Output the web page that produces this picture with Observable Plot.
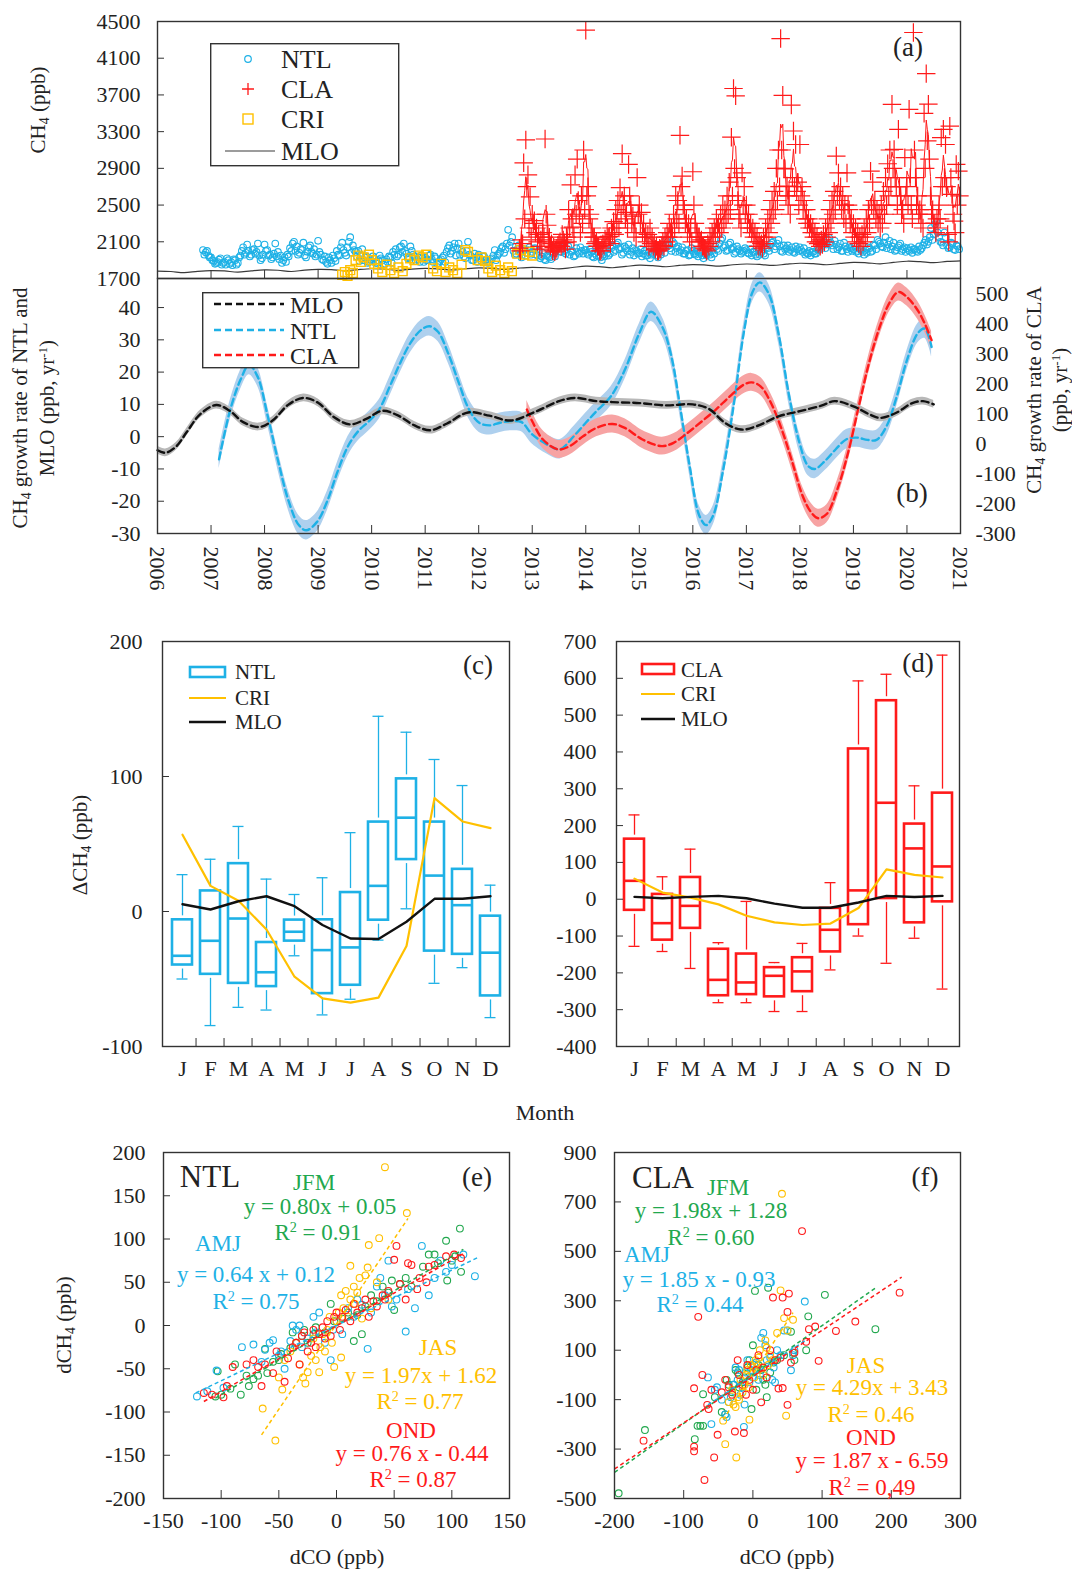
<!DOCTYPE html>
<html><head><meta charset="utf-8">
<script src="https://cdn.jsdelivr.net/npm/d3@7"></script>
<script src="https://cdn.jsdelivr.net/npm/@observablehq/plot@0.6"></script>
<style>
body{margin:0;background:#fff;width:1072px;height:1570px;position:relative;overflow:hidden;font-family:"Liberation Serif","Times New Roman",serif;color:#222}
.t{position:absolute;white-space:nowrap;line-height:1}
sub{font-size:0.65em;vertical-align:-0.25em}
sup{font-size:0.62em;vertical-align:0.55em}
</style></head><body>
<script>
const BLUE="#1EB1E6", RED="#FF1A1A", ORANGE="#FFC000", GREEN="#22A84E", INK="#222", FR="#333";
const FONT='"Liberation Serif","Times New Roman",serif';

// ---------- (a) CH4 time series ----------
const years = [2006,2007,2008,2009,2010,2011,2012,2013,2014,2015,2016,2017,2018,2019,2020,2021];
const aTicks = [1700,2100,2500,2900,3300,3700,4100,4500];
const ntlStep = 0.05;
const ntlStartA = 2006.85;
const ntlValuesA = [
 2010,1985,1950,
 1930,1890,1870,1905,1850,1880,1920,1860,1845,1900,1870,1950,2040,1980,2000,1960,2020,1990,1950,1920,
 2070,2010,1960,1930,2080,1990,1950,1900,1880,1940,2000,2100,2050,1980,2010,1950,1990,2060,1970,1940,
 2110,1960,1900,1880,1930,1870,1920,2000,1950,2090,1980,2040,2150,2060,1990,2000,1950,1900,1940,1880,
 1890,1920,1870,1950,1900,1860,1880,1930,1990,2020,1960,2050,2080,1970,1930,2000,1940,1910,1880,1920,
 1930,1900,1960,1880,1920,1870,1910,1950,1990,2060,2000,2080,2030,1960,1990,1920,2100,1950,1900,1930,
 1960,1890,1940,1910,1880,1920,2010,1950,1990,2050,2020,2230,2100,2000,1970,2060,1930,2020,1980,2040,
 1990,2030,1950,1920,1980,1900,1940,1910,1970,2010,2050,1990,2080,2020,1960,2000,1950,1990,2040,1970,
 2010,1960,1990,1930,1950,2020,1900,1940,1980,1970,2060,2010,2090,2040,1980,2030,2070,1990,1950,2000,
 1980,1940,2000,1950,1920,1970,2010,1930,1960,2050,2120,2060,2000,2080,2030,1990,2040,1970,2010,1960,
 2000,1960,1940,1990,1920,1950,1980,1930,1970,2020,2080,2140,2060,2010,2090,2040,1990,2020,1970,2000,
 2010,1970,1950,1990,1940,1960,2000,1950,2030,2070,2100,2050,2120,2000,2060,2030,1990,2040,1980,2020,
 2040,1990,1960,1970,1950,1990,1970,2010,2050,2100,2070,2140,2060,2110,2020,2080,2000,2050,1990,2030,
 2020,1990,1970,2010,1960,1980,2030,2000,2060,2120,2080,2040,2150,2070,2020,2090,2010,2060,2000,2040,
 2030,2000,1980,2020,1990,2010,2060,2120,2100,2250,2180,2320,2150,2090,2200,2060,2040,2080,2010,2050
];
const ntlStartB = 2006.875;
const ntlValuesB = [
 1960,2000,1930,
 1900,1860,1880,1920,1870,1850,1900,1880,1910,1850,1930,2000,1960,2070,1940,2010,1970,2080,1900,1960,
 2000,1950,1910,1970,1940,1910,1870,1930,1960,2030,2080,2000,1960,2020,2090,1930,2040,1990,2020,1960,
 1990,1910,1940,1860,1900,1950,1890,1960,2040,2010,1950,2100,1980,2010,1940,1890,2020,1930,1870,1910,
 1940,1870,1900,1920,1850,1910,1940,1870,1960,1940,2040,1990,2000,1920,2050,1960,1890,1930,1950,1880,
 1900,1950,1910,1940,1860,1890,1930,1880,2030,1970,2040,1950,2080,2010,1940,2000,1960,1900,1970,1880,
 1920,1940,1900,1870,1910,1950,1900,1970,2030,1980,2080,2060,2150,1960,2020,1990,2000,1950,2010,1960,
 2020,1960,2000,1940,1910,1950,1930,1970,1940,2060,1990,2030,1970,2050,1990,1940,2030,1970,2000,2010,
 1980,2020,1940,1970,2000,1930,1960,2010,1950,2030,1990,2070,2020,1960,2050,2000,1960,2030,2010,1970,
 2020,1970,1950,1990,1960,2000,1950,1990,2020,1980,2070,2030,2100,1990,2050,2010,1970,2000,1950,2030,
 1970,2010,1980,1950,1970,2000,1960,2010,2050,2000,2120,2040,2000,2070,2020,1970,2050,2000,1990,2030,
 1980,2020,1990,1960,2010,1980,1970,2040,2000,2090,2020,2080,2050,1990,2020,2060,2010,1990,2050,2000,
 2010,2030,1980,2000,1990,1970,2020,2040,2080,2030,2120,2090,2020,2070,2040,2000,2090,2020,2040,2000,
 2050,2000,2020,1990,2010,2040,1990,2070,2020,2100,2050,2090,2030,2110,2050,2000,2040,2080,2020,1990,
 2010,2040,2020,2000,2050,2030,2090,2070,2150,2120,2290,2200,2100,2060,2150,2030,2090,2020,2060,2020
];
const claStep = 0.04;
const claStartA = 2012.76;
const claValuesA = [
 2030,2120,2960,3210,2830,2590,
 2400,2330,2250,2180,2120,2200,3220,2280,2150,2080,2040,2010,2060,2100,2180,2090,2150,2450,2720,2260,2830,3000,2380,2600,3100,
 4405,2700,2400,2250,2150,2100,2050,2000,2080,2130,2200,2160,2250,2320,2450,2550,2690,3060,2600,2420,2943,2500,2380,2300,2800,
 2500,2420,2300,2200,2180,2250,2150,2080,2050,2000,2020,2100,2150,2200,2300,2250,2400,2600,2550,3260,2816,2450,2350,2300,2250,
 2863,2300,2200,2150,2120,2050,2020,2080,2150,2200,2250,2350,2300,2400,2500,2450,2600,2750,3240,3770,3690,2550,2400,2850,2700,
 2500,2400,2300,2250,2200,2150,2100,2080,2150,2250,2350,2450,2550,2650,2900,3100,4314,3696,2895,2707,2600,3590,3307,3160,2750,
 3160,2700,2550,2450,2350,2300,2250,2200,2150,2100,2120,2180,2250,2350,2450,2550,2650,3034,2850,2700,2600,2500,2850,2450,2350,
 2300,2250,2200,2150,2180,2250,2350,2450,2870,2750,2550,2450,2400,2500,2650,2800,2950,3100,3598,3107,2700,3325,2600,2450,3016,
 2700,3543,2500,4380,2800,2600,2450,2400,3500,3932,3600,2600,2450,2300,2350,2500,3234,3325,3160,2180,3360,2616,2325,2943,2870
];
const claStartB = 2012.78;
const claValuesB = [
 2000,2080,2350,2700,2250,2150,
 2300,2200,2100,2050,2020,2150,2400,2100,2050,2000,1990,2030,2080,2050,2120,2020,2100,2250,2350,2150,2400,2550,2200,2300,2450,
 2600,2350,2200,2150,2080,2050,2000,2030,2060,2100,2150,2080,2200,2180,2300,2250,2400,2500,2350,2250,2600,2300,2200,2150,2400,
 2300,2200,2150,2100,2050,2080,2050,2020,2000,2030,2060,2050,2100,2150,2200,2150,2250,2350,2300,2700,2500,2300,2200,2150,2100,
 2500,2200,2150,2100,2050,2030,2000,2050,2100,2150,2200,2250,2200,2250,2300,2350,2400,2450,2600,2900,2800,2350,2250,2500,2400,
 2300,2250,2200,2150,2100,2050,2050,2030,2080,2150,2200,2300,2400,2450,2550,2700,3100,2900,2600,2500,2400,2800,2700,2650,2500,
 2600,2450,2350,2300,2250,2200,2150,2100,2080,2050,2070,2100,2150,2200,2300,2400,2450,2600,2550,2450,2350,2300,2500,2300,2200,
 2150,2100,2080,2050,2100,2150,2200,2300,2500,2450,2350,2300,2250,2300,2400,2500,2600,2700,2900,2800,2500,2700,2400,2300,2600,
 2500,2800,2350,3100,2500,2400,2300,2250,2900,3200,3000,2400,2300,2200,2250,2350,2700,2800,2700,2100,2800,2400,2200,2500,2600
];
const criObs = [
 [2009.45,1740],[2009.5,1770],[2009.55,1730],[2009.6,1790],[2009.65,1760],[2009.7,1900],[2009.75,1950],[2009.8,1880],[2009.85,1930],[2009.95,1960],[2010.0,1900],[2010.05,1860],
 [2010.12,1810],[2010.2,1770],[2010.28,1850],[2010.35,1790],[2010.42,1760],[2010.5,1820],[2010.58,1780],[2010.65,1860],
 [2010.72,1920],[2010.8,1900],[2010.88,1950],[2010.95,1930],[2011.02,1960],
 [2011.15,1810],[2011.22,1780],[2011.3,1860],[2011.38,1770],[2011.45,1820],[2011.52,1790],[2011.6,1760],[2011.68,1850],[2011.75,2010],[2011.8,1990],
 [2011.98,1900],[2012.05,1930],[2012.12,1890],[2012.18,1810],[2012.25,1770],[2012.32,1840],[2012.4,1790],[2012.48,1760],[2012.55,1820],[2012.62,1780],
 [2012.72,1970],[2012.78,2010],[2012.85,1960],[2012.95,1990],[2013.0,1950]
];
const mloStart = 2006, mloStep = 0.25;
const mloValues = [
 1780,1776,1764,1778, 1786,1782,1770,1784, 1794,1790,1776,1792, 1800,1797,1783,1797,
 1806,1801,1789,1803, 1810,1805,1793,1806, 1815,1811,1800,1814, 1822,1817,1805,1820,
 1834,1829,1817,1832, 1845,1840,1828,1843, 1852,1846,1835,1850, 1858,1853,1842,1856,
 1866,1861,1850,1864, 1876,1871,1860,1875, 1888,1883,1872,1886, 1893
];

// ---------- (b) growth rates ----------
const mloGrowth = [[2006.0,-4.2],[2006.15,-5],[2006.35,-3],[2006.55,1.5],[2006.8,7],[2007.1,9.8],[2007.35,8],[2007.6,4.5],[2007.9,3],[2008.15,5],[2008.45,10],[2008.73,12],[2009.0,10.5],[2009.3,6],[2009.6,3.8],[2009.9,5.5],[2010.2,8],[2010.5,6.5],[2010.8,3.5],[2011.1,2],[2011.4,4],[2011.8,7.5],[2012.2,6.5],[2012.6,5],[2013.07,7.8],[2013.5,11],[2013.8,12],[2014.2,11],[2014.5,10.7],[2015.0,10.4],[2015.5,9.7],[2016.0,10],[2016.3,8.6],[2016.6,4.3],[2016.9,2.2],[2017.2,3.3],[2017.6,6.3],[2018.0,7.9],[2018.4,9.6],[2018.65,11],[2019.0,9.4],[2019.3,6.9],[2019.5,5.8],[2019.8,7.4],[2020.1,10.4],[2020.3,11],[2020.5,10]];
const ntlGrowth = [[2007.15,-7],[2007.36,8.4],[2007.55,17.6],[2007.71,22.2],[2007.87,18.6],[2008.06,6.3],[2008.26,-8],[2008.45,-20],[2008.64,-27.4],[2008.78,-29],[2008.98,-26.4],[2009.17,-20],[2009.36,-11],[2009.56,-2.9],[2009.75,1.7],[2009.95,4.8],[2010.14,8.4],[2010.34,15.6],[2010.53,22.7],[2010.72,28.9],[2010.92,33],[2011.08,34.2],[2011.24,32.5],[2011.43,25.8],[2011.63,16.6],[2011.82,8.4],[2012.01,4.3],[2012.2,3.5],[2012.4,4.3],[2012.6,4.8],[2012.8,4.5],[2013.0,0.7],[2013.33,-2.9],[2013.52,-3.9],[2013.78,0.2],[2014.0,4.3],[2014.2,7.9],[2014.47,12.5],[2014.73,20.7],[2015.0,32],[2015.22,38.7],[2015.43,34],[2015.6,24.8],[2015.78,7.4],[2015.95,-10],[2016.12,-24.4],[2016.25,-27.4],[2016.38,-24.4],[2016.57,-10],[2016.77,10.5],[2016.96,33],[2017.12,45],[2017.25,47.8],[2017.42,44.2],[2017.6,32],[2017.8,12.5],[2017.99,-1.8],[2018.15,-9],[2018.28,-10],[2018.47,-7.5],[2018.67,-3.9],[2018.87,-0.8],[2019.07,-0.3],[2019.26,-1],[2019.43,-1],[2019.62,3.3],[2019.81,12.5],[2020.0,23.7],[2020.2,32],[2020.33,33.5],[2020.46,27.8]];
const claGrowth = [[2012.9,114],[2013.0,75],[2013.2,14],[2013.49,-19],[2013.7,-8],[2013.95,25],[2014.2,53],[2014.5,66],[2014.73,53],[2015.06,14],[2015.42,-8],[2015.64,3],[2015.9,36],[2016.17,75],[2016.43,114],[2016.69,158],[2016.95,197],[2017.1,205],[2017.27,191],[2017.46,136],[2017.66,48],[2017.86,-63],[2018.05,-174],[2018.21,-229],[2018.34,-249],[2018.5,-235],[2018.7,-152],[2018.9,-30],[2019.1,125],[2019.29,269],[2019.49,390],[2019.68,473],[2019.84,507],[2020.0,490],[2020.2,446],[2020.33,402],[2020.46,346]];
const mloUnc = 1.2, ntlUnc = 3, claUnc = 30;
const leftTicksB = [-30,-20,-10,0,10,20,30,40];
const rightTicksB = [-300,-200,-100,0,100,200,300,400,500];

// ---------- (c)(d) monthly boxes: [low whisker, q1, median, q3, high whisker] ----------
const monthLabels = ["J","F","M","A","M","J","J","A","S","O","N","D"];
const ntlBox = [[-50,-42.6,-32.8,-3.2,27.3],[-84.5,-49.5,-21.7,18.2,38.7],[-71,-56.2,-5.2,38.4,63],[-73,-58.6,-45,-20,24],[-32.8,-24.9,-15,-3.4,12.6],[-76.6,-63.8,-28.6,-3.2,25],[-65,-57.6,-26.6,17,58.4],[-21.2,-9.4,19,69.2,144.6],[2,35.5,69.5,101.2,132.8],[-53.2,-32.3,26.6,69.2,112.6],[-41.6,-34.7,4.7,34.2,93.3],[-78.6,-65.5,-30.5,-0.5,19.5]];
const criMonthlyC = [56.9,19,7.9,-13.3,-48.3,-64.3,-67.5,-63.8,-25.6,84,66.7,61.8];
const mloMonthlyC = [5.4,1.5,7.6,11.3,3.9,-10,-20,-20.4,-7.6,9.4,9.4,11.3];
const claBox = [[-128,-41,50,174,229],[-142,-122,-65,24,61],[-188,-90,-18,70,136],[-281,-273,-219,-125,-118],[-281,-270,-226,-138,-6],[-305,-276,-208,-175,-172],[-305,-262,-196,-148,-120],[-192,-154,-83,-14,45],[-100,-80,24,419,593],[-174,-9,262,550,611],[-106,-75,138,215,308],[-244,-18,89,299,663]];
const criMonthlyD = [56,18,4.5,-14,-45,-63,-70,-66,-24,81,66,59];
const mloMonthlyD = [6.3,2.7,6.3,9,2.7,-12,-23,-23,-9,9,6,9];

// ---------- (e) NTL dCO vs dCH4 ----------
const ntlJFM = [[-105,-82],[-103,-53],[-100,-80],[-92,-73],[-88,-45],[-83,-80],[-78,-58],[-76,-70],[-72,-62],[-68,-58],[-62,-27],[-60,-55],[-55,-42],[-50,-40],[-48,-33],[-40,-26],[-38,-8],[-35,-20],[-30,-12],[-28,-5],[-25,-20],[-20,-10],[-18,-2],[-10,-8],[-5,25],[-2,5],[5,8],[10,15],[15,-18],[18,12],[22,-10],[25,22],[30,35],[35,28],[40,45],[45,38],[48,52],[50,18],[55,48],[60,55],[65,45],[75,68],[80,82],[85,82],[88,72],[95,98],[96,52],[100,75],[103,80],[107,112],[108,62]];
const ntlAMJ = [[-121,-82],[-112,-76],[-104,-52],[-98,-72],[-82,-25],[-72,-22],[-65,-42],[-62,-28],[-58,-20],[-55,-17],[-50,-35],[-48,-30],[-45,-50],[-40,-18],[-38,0],[-35,-5],[-32,0],[-30,-25],[-25,-15],[-20,10],[-18,-8],[-15,15],[-10,-20],[-5,-40],[-3,-5],[0,5],[5,-10],[10,20],[15,10],[18,30],[22,24],[27,-27],[30,15],[35,45],[38,55],[42,35],[45,75],[48,22],[52,30],[60,-7],[62,42],[68,20],[74,92],[80,35],[85,55],[90,75],[95,62],[100,70],[110,82],[120,57]];
const ntlJAS = [[-64,-96],[-53,-133],[-50,-60],[-47,-74],[-45,-40],[-40,-30],[-35,-20],[-32,-45],[-29,-60],[-27,-67],[-25,-54],[-22,-35],[-20,-15],[-18,-40],[-15,-54],[-14,-25],[-12,-10],[-10,-30],[-8,-5],[-6,10],[-4,-20],[-2,-48],[0,5],[2,15],[4,-37],[4,35],[6,20],[8,40],[10,10],[12,30],[12,69],[15,45],[16,25],[18,38],[20,55],[22,8],[25,58],[27,67],[28,93],[30,20],[35,50],[37,101],[42,183],[45,30],[61,130]];
const ntlOND = [[-115,-78],[-108,-80],[-98,-83],[-95,-70],[-90,-48],[-78,-45],[-72,-40],[-68,-48],[-65,-70],[-62,-45],[-55,-55],[-52,-30],[-45,-65],[-42,-38],[-38,-25],[-35,-20],[-32,-45],[-30,-12],[-28,-8],[-25,-30],[-22,-20],[-20,-5],[-18,-25],[-15,-10],[-12,-2],[-10,-15],[-8,5],[-5,-12],[-2,10],[0,15],[3,-5],[5,10],[8,18],[12,5],[15,25],[18,15],[22,20],[25,30],[28,10],[32,28],[35,22],[40,35],[42,30],[45,40],[50,76],[52,92],[55,48],[60,30],[62,72],[65,70],[70,42],[72,55],[78,50],[80,68],[85,70],[95,80],[102,82],[108,78]];
const ntlFits = [{s:"JFM",a:0.80,b:0.05,x1:-105,x2:110},{s:"AMJ",a:0.64,b:0.12,x1:-122,x2:122},{s:"JAS",a:1.97,b:1.62,x1:-65,x2:62},{s:"OND",a:0.76,b:-0.44,x1:-115,x2:110}];

// ---------- (f) CLA dCO vs dCH4 ----------
const claJFM = [[-194,-479],[-156,-223],[-84,-260],[-80,-206],[-76,-206],[-72,-206],[-72,-78],[-55,-90],[-45,-150],[-40,-160],[-38,-20],[-35,-40],[-30,-70],[-28,-40],[-25,20],[-22,10],[-20,-50],[-15,-30],[-12,-10],[-8,30],[-5,60],[-2,-138],[0,10],[0,120],[3,340],[5,-60],[8,40],[12,20],[15,-20],[18,-40],[20,-90],[22,353],[25,10],[30,50],[35,60],[45,80],[55,175],[58,90],[60,60],[77,100],[80,237],[104,324],[177,185]];
const claAMJ = [[-65,-10],[-60,-199],[-55,-60],[-52,-50],[-45,-100],[-40,-160],[-38,-170],[-35,-110],[-32,-90],[-28,-40],[-25,30],[-22,-20],[-20,20],[-18,-80],[-15,-50],[-13,-210],[-12,-120],[-10,10],[-8,60],[-5,-30],[-3,20],[0,-10],[2,40],[5,50],[8,-20],[10,0],[12,150],[15,170],[18,120],[20,60],[25,70],[28,-20],[30,30],[32,-30],[35,100],[40,80],[45,180],[50,180],[55,19],[58,80],[60,100],[75,297]];
const claJAS = [[-43,-185],[-40,-280],[-35,-110],[-30,-60],[-28,-120],[-25,-130],[-24,-334],[-22,-90],[-20,-100],[-18,-20],[-15,-70],[-12,-40],[-10,0],[-8,20],[-6,-50],[-5,-181],[-3,40],[0,30],[2,-10],[4,60],[5,20],[8,70],[10,100],[12,30],[15,0],[18,140],[20,110],[22,40],[25,80],[28,60],[35,170],[40,342],[42,733],[45,230],[48,-165],[50,180],[58,223]];
const claOND = [[-158,-266],[-85,-309],[-85,-290],[-85,-54],[-79,235],[-73,0],[-70,-425],[-66,-121],[-64,-138],[-60,-60],[-56,-334],[-51,-242],[-45,-70],[-40,-20],[-35,-50],[-30,-80],[-26,-229],[-22,60],[-20,0],[-15,-40],[-13,-235],[-10,-80],[-8,40],[-5,-20],[0,-60],[5,20],[8,80],[12,-111],[15,30],[20,-10],[25,100],[29,313],[32,60],[37,-55],[40,70],[43,313],[43,-53],[50,255],[50,-121],[52,329],[55,50],[60,90],[71,582],[77,134],[81,185],[90,196],[95,57],[120,178],[148,216],[212,333]];
const claFits = [{s:"JFM",a:1.98,b:1.28,x1:-200,x2:178},{s:"AMJ",a:1.85,b:-0.93,x1:-65,x2:75},{s:"JAS",a:4.29,b:3.43,x1:-43,x2:58},{s:"OND",a:1.87,b:-6.59,x1:-200,x2:215}];

const seasonColor = {JFM: GREEN, AMJ: BLUE, JAS: ORANGE, OND: RED};

// ---------- helpers ----------
const ST = {background:"transparent", overflow:"visible", fontFamily:FONT, fontSize:"22px", color:INK};
const fmt = d => String(d);
function place(el, left, top){ const d=document.createElement("div"); d.style.position="absolute"; d.style.left=left+"px"; d.style.top=top+"px"; d.appendChild(el); document.body.appendChild(d); }
function label(html, cx, cy, o={}){
  const {size=22, color=INK, rotate=0, anchor="middle"} = o;
  const d=document.createElement("div"); d.className="t"; d.innerHTML=html;
  d.style.fontSize=size+"px"; d.style.color=color; d.style.left=cx+"px"; d.style.top=cy+"px";
  const tx = anchor==="start" ? "0" : anchor==="end" ? "-100%" : "-50%";
  d.style.transform=`translate(${tx},-50%)`+(rotate?` rotate(${rotate}deg)`:"");
  document.body.appendChild(d);
}
function svgBox(left, top, w, h, inner){
  const d=document.createElement("div"); d.style.position="absolute"; d.style.left=left+"px"; d.style.top=top+"px";
  d.innerHTML=`<svg width="${w}" height="${h}" style="overflow:visible;display:block">${inner}</svg>`;
  document.body.appendChild(d);
}
const series = (start, step, vals) => vals.map((v,i)=>({t: start + i*step, v}));

// ---------- panel (a) ----------
const ntlA = [...series(ntlStartA, ntlStep, ntlValuesA), ...series(ntlStartB, ntlStep, ntlValuesB)];
const claA = [...series(claStartA, claStep, claValuesA), ...series(claStartB, claStep, claValuesB)].sort((a,b)=>a.t-b.t);
const criA = criObs.map(([t,v])=>({t,v}));
const mloA = series(mloStart, mloStep, mloValues);
place(Plot.plot({
  width:1072, height:280, marginLeft:157, marginRight:112, marginTop:21, marginBottom:2, style:ST,
  x:{domain:[2006,2021], axis:null}, y:{domain:[1700,4500], axis:null},
  marks:[
    Plot.line(mloA, {x:"t", y:"v", stroke:"#3a3a3a", strokeWidth:1.2, curve:"catmull-rom"}),
    Plot.dot(ntlA, {x:"t", y:"v", r:3.3, fill:"none", stroke:BLUE, strokeWidth:1.1}),
    Plot.dot(criA, {x:"t", y:"v", symbol:"square", r:5, fill:"none", stroke:ORANGE, strokeWidth:1.4}),
    Plot.lineY(claA, Plot.windowY({k:5, reduce:"mean"}, {x:"t", y:"v", stroke:RED, strokeWidth:1})),
    Plot.dot(claA, {x:"t", y:"v", symbol:"plus", r:6, fill:"none", stroke:RED, strokeWidth:1.2}),
    Plot.tickY(aTicks.slice(1,-1), {y:d=>d, insetRight:803-7, stroke:FR}),
    Plot.tickX(years.slice(1,-1), {x:d=>d, insetTop:257-8, stroke:FR}),
    Plot.frame({stroke:FR, strokeWidth:1.4}),
    Plot.axisY(aTicks, {label:null, tickSize:0, tickPadding:17, tickFormat:fmt, fontSize:22})
  ]
}), 0, 0);
label("CH<sub>4</sub> (ppb)", 40, 110, {size:21, rotate:-90});
label("(a)", 908, 47, {size:27});
svgBox(210, 43, 190, 125, `
  <rect x="0.7" y="0.7" width="188" height="122" fill="white" stroke="${FR}" stroke-width="1.4"/>
  <circle cx="38" cy="16" r="3.3" fill="none" stroke="${BLUE}" stroke-width="1.2"/>
  <path d="M32,46 h12 M38,40 v12" stroke="${RED}" stroke-width="1.3"/>
  <rect x="33" y="71" width="10" height="10" fill="none" stroke="${ORANGE}" stroke-width="1.4"/>
  <line x1="15" x2="65" y1="108" y2="108" stroke="#3a3a3a" stroke-width="1.2"/>`);
label("NTL", 281, 60, {size:26, anchor:"start"});
label("CLA", 281, 90, {size:26, anchor:"start"});
label("CRI", 281, 120, {size:26, anchor:"start"});
label("MLO", 281, 152, {size:26, anchor:"start"});

// ---------- panel (b) ----------
const toL = r => -30 + (r + 300) * 79 / 852;
const fromL = l => (l + 30) * 852 / 79 - 300;
place(Plot.plot({
  width:1072, height:340, marginLeft:157, marginRight:112, marginTop:8, marginBottom:77, style:ST,
  x:{domain:[2006,2021], axis:null}, y:{domain:[-30,49], axis:null},
  marks:[
    Plot.areaY(ntlGrowth, {x:d=>d[0], y1:d=>d[1]-ntlUnc, y2:d=>d[1]+ntlUnc, fill:"#AED0EE", curve:"catmull-rom"}),
    Plot.areaY(claGrowth, {x:d=>d[0], y1:d=>toL(d[1]-claUnc), y2:d=>toL(d[1]+claUnc), fill:"#F7A3A3", curve:"catmull-rom"}),
    Plot.areaY(mloGrowth, {x:d=>d[0], y1:d=>d[1]-mloUnc, y2:d=>d[1]+mloUnc, fill:"#B8B8B8", curve:"catmull-rom"}),
    Plot.line(ntlGrowth, {x:d=>d[0], y:d=>d[1], stroke:BLUE, strokeWidth:2.4, strokeDasharray:"7,4", curve:"catmull-rom"}),
    Plot.line(claGrowth, {x:d=>d[0], y:d=>toL(d[1]), stroke:RED, strokeWidth:2.4, strokeDasharray:"7,4", curve:"catmull-rom"}),
    Plot.line(mloGrowth, {x:d=>d[0], y:d=>d[1], stroke:"#111", strokeWidth:2.4, strokeDasharray:"7,4", curve:"catmull-rom"}),
    Plot.tickY(leftTicksB.slice(1), {y:d=>d, insetRight:803-7, stroke:FR}),
    Plot.tickX(years.slice(1,-1), {x:d=>d, insetTop:255-8, stroke:FR}),
    Plot.frame({stroke:FR, strokeWidth:1.4}),
    Plot.axisY(leftTicksB, {label:null, tickSize:0, tickPadding:17, tickFormat:fmt, fontSize:22}),
    Plot.axisY(rightTicksB.map(toL), {label:null, anchor:"right", tickSize:0, tickPadding:15, tickFormat:d=>String(Math.round(fromL(d))), fontSize:22}),
    Plot.axisX(years, {label:null, tickRotate:90, tickSize:0, tickPadding:13, tickFormat:fmt, fontSize:22})
  ]
}), 0, 270);
svgBox(202, 292, 158, 78, `
  <rect x="0.7" y="0.7" width="156" height="75" fill="white" stroke="${FR}" stroke-width="1.4"/>
  <line x1="12" x2="82" y1="12" y2="12" stroke="#111" stroke-width="2.4" stroke-dasharray="7,4"/>
  <line x1="12" x2="82" y1="38" y2="38" stroke="${BLUE}" stroke-width="2.4" stroke-dasharray="7,4"/>
  <line x1="12" x2="82" y1="63" y2="63" stroke="${RED}" stroke-width="2.4" stroke-dasharray="7,4"/>`);
label("MLO", 290, 305, {size:24, anchor:"start"});
label("NTL", 290, 331, {size:24, anchor:"start"});
label("CLA", 290, 356, {size:24, anchor:"start"});
label("(b)", 912, 493, {size:27});
label("CH<sub>4</sub> growth rate of NTL and", 22, 408, {size:21, rotate:-90});
label("MLO (ppb, yr<sup>-1</sup>)", 47, 408, {size:21, rotate:-90});
label("CH<sub>4</sub> growth rate of CLA", 1036, 390, {size:21, rotate:-90});
label("(ppb, yr<sup>-1</sup>)", 1060, 390, {size:21, rotate:-90});

// ---------- panels (c)(d) ----------
function boxPanel(boxes, cri, mlo, color, yDomain, yTicks, innerTicks, fw, ml, mr){
  const data = boxes.map((b,i)=>({m:i, lo:b[0], q1:b[1], med:b[2], q3:b[3], hi:b[4]}));
  const bw = fw/12;
  return Plot.plot({
    width: ml+fw+mr, height:500, marginLeft:ml, marginRight:mr, marginTop:41, marginBottom:54, style:ST,
    x:{type:"band", domain:d3.range(12), padding:0, axis:null}, y:{domain:yDomain, axis:null},
    marks:[
      Plot.ruleX(data, {x:"m", y1:"lo", y2:"q1", stroke:color, strokeWidth:1.3}),
      Plot.ruleX(data, {x:"m", y1:"q3", y2:"hi", stroke:color, strokeWidth:1.3}),
      Plot.tickY(data, {x:"m", y:"lo", stroke:color, strokeWidth:1.3, inset:8.5}),
      Plot.tickY(data, {x:"m", y:"hi", stroke:color, strokeWidth:1.3, inset:8.5}),
      Plot.barY(data, {x:"m", y1:"q1", y2:"q3", fill:"white", stroke:color, strokeWidth:2.6, inset:4}),
      Plot.tickY(data, {x:"m", y:"med", stroke:color, strokeWidth:2.6, inset:4}),
      Plot.lineY(cri, {x:(d,i)=>i, y:d=>d, stroke:ORANGE, strokeWidth:2.2}),
      Plot.lineY(mlo, {x:(d,i)=>i, y:d=>d, stroke:"#111", strokeWidth:2.4}),
      Plot.tickY(innerTicks, {y:d=>d, insetRight:fw-7, stroke:FR}),
      Plot.tickX(d3.range(1,12), {x:d=>d, dx:-bw/2, insetTop:405-8, stroke:FR}),
      Plot.frame({stroke:FR, strokeWidth:1.4}),
      Plot.axisY(yTicks, {label:null, tickSize:0, tickPadding:20, tickFormat:fmt, fontSize:22}),
      Plot.axisX(d3.range(12), {label:null, tickSize:0, tickPadding:14, tickFormat:i=>monthLabels[i], fontSize:22})
    ]
  });
}
place(boxPanel(ntlBox, criMonthlyC, mloMonthlyC, BLUE, [-100,200], [-100,0,100,200], [0,100], 347, 162, 31), 0, 600);
place(boxPanel(claBox, criMonthlyD, mloMonthlyD, RED, [-400,700], d3.range(-400,701,100), d3.range(-300,601,100), 343, 76, 113), 540, 600);
label("ΔCH<sub>4</sub> (ppb)", 82, 845, {size:21, rotate:-90});
label("(c)", 478, 665, {size:27});
label("(d)", 918, 663, {size:27});
svgBox(189, 660, 60, 70, `
  <rect x="1" y="7" width="35" height="10" fill="white" stroke="${BLUE}" stroke-width="2.6"/>
  <line x1="0" x2="37" y1="38" y2="38" stroke="${ORANGE}" stroke-width="2.2"/>
  <line x1="0" x2="37" y1="62" y2="62" stroke="#111" stroke-width="2.4"/>`);
label("NTL", 235, 672, {size:21, anchor:"start"});
label("CRI", 235, 698, {size:21, anchor:"start"});
label("MLO", 235, 722, {size:21, anchor:"start"});
svgBox(641, 657, 60, 70, `
  <rect x="1" y="7" width="32" height="10" fill="white" stroke="${RED}" stroke-width="2.6"/>
  <line x1="0" x2="34" y1="37" y2="37" stroke="${ORANGE}" stroke-width="2.2"/>
  <line x1="0" x2="34" y1="62" y2="62" stroke="#111" stroke-width="2.4"/>`);
label("CLA", 681, 670, {size:21, anchor:"start"});
label("CRI", 681, 694, {size:21, anchor:"start"});
label("MLO", 681, 719, {size:21, anchor:"start"});
label("Month", 545, 1113, {size:22});

// ---------- panels (e)(f) ----------
function scatterPanel(sets, fits, xDomain, yDomain, xTicks, yTicks, xIn, yIn, ml, mr, fw){
  const marks = [];
  for (const [s, pts] of sets) marks.push(Plot.dot(pts, {x:d=>d[0], y:d=>d[1], r:3.4, fill:"none", stroke:seasonColor[s], strokeWidth:1.1}));
  for (const f of fits) marks.push(Plot.link([f], {x1:"x1", x2:"x2", y1:d=>d.a*d.x1+d.b, y2:d=>d.a*d.x2+d.b, stroke:seasonColor[f.s], strokeWidth:1.5, strokeDasharray:"4,3"}));
  marks.push(
    Plot.tickY(yIn, {y:d=>d, insetRight:fw-7, stroke:FR}),
    Plot.tickX(xIn, {x:d=>d, insetTop:346-8, stroke:FR}),
    Plot.frame({stroke:FR, strokeWidth:1.4}),
    Plot.axisY(yTicks, {label:null, tickSize:0, tickPadding:18, tickFormat:fmt, fontSize:22}),
    Plot.axisX(xTicks, {label:null, tickSize:0, tickPadding:14, tickFormat:fmt, fontSize:22})
  );
  return Plot.plot({width:ml+fw+mr, height:450, marginLeft:ml, marginRight:mr, marginTop:32, marginBottom:72, style:ST,
    x:{domain:xDomain, axis:null}, y:{domain:yDomain, axis:null}, marks});
}
place(scatterPanel([["JFM",ntlJFM],["AMJ",ntlAMJ],["JAS",ntlJAS],["OND",ntlOND]], ntlFits, [-150,150], [-200,200],
  d3.range(-150,151,50), d3.range(-200,201,50), d3.range(-100,101,50), d3.range(-150,151,50), 163, 31, 346), 0, 1120);
place(scatterPanel([["JFM",claJFM],["AMJ",claAMJ],["JAS",claJAS],["OND",claOND]], claFits, [-200,300], [-500,900],
  d3.range(-200,301,100), d3.range(-500,901,200), d3.range(-100,201,100), d3.range(-300,701,200), 74, 112, 346), 540, 1120);
label("dCH<sub>4</sub> (ppb)", 66, 1325, {size:21, rotate:-90});
label("dCO (ppb)", 337, 1557, {size:22});
label("dCO (ppb)", 787, 1557, {size:22});
// (e) annotations
label("NTL", 210, 1176, {size:31});
label("(e)", 477, 1177, {size:27});
label("JFM", 314, 1182, {size:23, color:GREEN});
label("y = 0.80x + 0.05", 320, 1206, {size:23, color:GREEN});
label("R<sup>2</sup> = 0.91", 318, 1232, {size:23, color:GREEN});
label("AMJ", 218, 1243, {size:23, color:BLUE});
label("y = 0.64 x + 0.12", 256, 1274, {size:23, color:BLUE});
label("R<sup>2</sup> = 0.75", 256, 1301, {size:23, color:BLUE});
label("JAS", 438, 1347, {size:23, color:ORANGE});
label("y = 1.97x + 1.62", 421, 1375, {size:23, color:ORANGE});
label("R<sup>2</sup> = 0.77", 420, 1401, {size:23, color:ORANGE});
label("OND", 411, 1430, {size:23, color:RED});
label("y = 0.76 x - 0.44", 412, 1453, {size:23, color:RED});
label("R<sup>2</sup> = 0.87", 413, 1479, {size:23, color:RED});
// (f) annotations
label("CLA", 663, 1177, {size:31});
label("(f)", 925, 1177, {size:27});
label("JFM", 728, 1187, {size:23, color:GREEN});
label("y = 1.98x + 1.28", 711, 1210, {size:23, color:GREEN});
label("R<sup>2</sup> = 0.60", 711, 1237, {size:23, color:GREEN});
label("AMJ", 647, 1254, {size:23, color:BLUE});
label("y = 1.85 x - 0.93", 699, 1279, {size:23, color:BLUE});
label("R<sup>2</sup> = 0.44", 700, 1304, {size:23, color:BLUE});
label("JAS", 866, 1365, {size:23, color:ORANGE});
label("y = 4.29x + 3.43", 872, 1387, {size:23, color:ORANGE});
label("R<sup>2</sup> = 0.46", 871, 1414, {size:23, color:ORANGE});
label("OND", 871, 1437, {size:23, color:RED});
label("y = 1.87 x - 6.59", 872, 1460, {size:23, color:RED});
label("R<sup>2</sup> = 0,49", 872, 1487, {size:23, color:RED});
</script>
</body></html>
